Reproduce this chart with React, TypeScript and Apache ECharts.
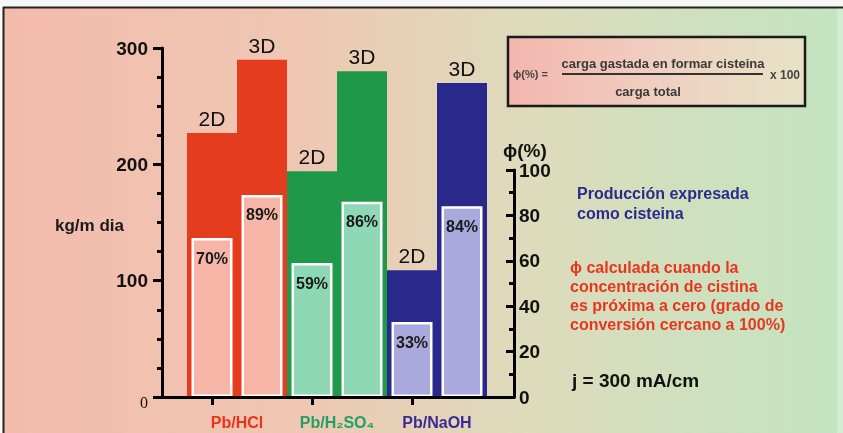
import { useEffect, useRef } from "react";
import * as echarts from "echarts";

// Cell configurations and electrode geometries
const groups = ["Pb/HCl", "Pb/H₂SO₄", "Pb/NaOH"];
const electrodes = ["2D", "3D"];
// Production expressed as cysteine (kg/m día), order: HCl 2D, HCl 3D, H2SO4 2D, H2SO4 3D, NaOH 2D, NaOH 3D
const production = [227, 290, 194, 280, 109, 270];
// Current efficiency ϕ (%) in the same order
const efficiency = [70, 89, 59, 86, 33, 84];
const productionTicks = [0, 100, 200, 300];
const efficiencyTicks = [0, 20, 40, 60, 80, 100];

const darkColors = ["#e63c1e", "#1f984a", "#29298c"];
const lightColors = ["#f6b5a6", "#8fd8b6", "#a9a9dd"];
const groupLabelColors = ["#e8341c", "#22a065", "#3a2c92"];

const FONT = "'Liberation Sans', Arial, Helvetica, sans-serif";

const barKeys = groups.flatMap((g) => electrodes.map((e) => `${g} ${e}`));

function buildOption() {
  const prodMax = productionTicks[productionTicks.length - 1];
  const prodStep = productionTicks[1] - productionTicks[0];
  const effMax = efficiencyTicks[efficiencyTicks.length - 1];
  const effStep = efficiencyTicks[1] - efficiencyTicks[0];

  const axisLineStyle = { color: "#000", width: 3 };

  const groupRich: Record<string, object> = {};
  groups.forEach((_, i) => {
    groupRich["g" + i] = {
      color: groupLabelColors[i],
      fontSize: 16,
      fontWeight: "bold",
      fontFamily: FONT,
    };
  });

  return {
    animation: false,
    textStyle: { fontFamily: FONT },
    grid: [
      { left: 162, right: 329, top: 48, bottom: 36 }, // frame with production axis
      { left: 187, right: 356, top: 48, bottom: 36 }, // production bars
      { left: 187, right: 356, top: 170, bottom: 36 }, // efficiency bars
      { left: 187, right: 356, top: 48, bottom: 36 }, // group labels
    ],
    xAxis: [
      {
        gridIndex: 0,
        type: "value",
        min: 0,
        max: 1,
        z: 5,
        axisLine: { show: true, lineStyle: axisLineStyle },
        axisTick: { show: false },
        axisLabel: { show: false },
        splitLine: { show: false },
      },
      {
        gridIndex: 1,
        type: "category",
        data: barKeys,
        boundaryGap: true,
        axisLine: { show: false },
        axisTick: {
          show: true,
          alignWithLabel: true,
          length: 8,
          lineStyle: { color: "#000", width: 3 },
        },
        axisLabel: { show: false },
      },
      {
        gridIndex: 2,
        type: "category",
        data: barKeys,
        boundaryGap: true,
        show: false,
      },
      {
        gridIndex: 3,
        type: "category",
        data: groups,
        boundaryGap: true,
        axisLine: { show: false },
        axisTick: { show: false },
        axisLabel: {
          interval: 0,
          margin: 17,
          formatter: (v: string, i: number) => `{g${i}|${v}}`,
          rich: groupRich,
        },
      },
    ],
    yAxis: [
      {
        gridIndex: 0,
        type: "value",
        position: "left",
        min: 0,
        max: prodMax,
        interval: prodStep,
        axisLine: { show: true, lineStyle: axisLineStyle },
        axisTick: { show: true, length: 9, lineStyle: { color: "#000", width: 3 } },
        minorTick: { show: true, splitNumber: 4, length: 5, lineStyle: { color: "#000", width: 3 } },
        splitLine: { show: false },
        axisLabel: {
          margin: 14,
          formatter: (v: number) => (v === 0 ? `{z|${v}}` : `{b|${v}}`),
          rich: {
            b: { fontSize: 19, fontWeight: "bold", color: "#111", fontFamily: FONT },
            z: { fontSize: 16, color: "#111", fontFamily: "'Liberation Serif', serif", padding: [10, 0, 0, 0] },
          },
        },
      },
      { gridIndex: 1, type: "value", min: 0, max: prodMax, show: false },
      {
        gridIndex: 2,
        type: "value",
        position: "right",
        offset: 27,
        min: 0,
        max: effMax,
        interval: effStep,
        axisLine: { show: true, lineStyle: axisLineStyle },
        axisTick: { show: true, inside: true, length: 8, lineStyle: { color: "#000", width: 3 } },
        minorTick: { show: true, splitNumber: 2, length: 5, lineStyle: { color: "#000", width: 3 } },
        splitLine: { show: false },
        axisLabel: { margin: 5, fontSize: 19, fontWeight: "bold", color: "#111" },
      },
      { gridIndex: 3, type: "value", show: false },
    ],
    series: [
      {
        name: "Producción",
        type: "bar",
        xAxisIndex: 1,
        yAxisIndex: 1,
        barCategoryGap: "0%",
        z: 2,
        data: production.map((v, i) => ({
          value: v,
          itemStyle: { color: darkColors[Math.floor(i / electrodes.length)] },
        })),
        label: {
          show: true,
          position: "top",
          distance: 4,
          fontSize: 21,
          color: "#111",
          formatter: (p: { dataIndex: number }) => electrodes[p.dataIndex % electrodes.length],
        },
      },
      {
        name: "ϕ",
        type: "bar",
        xAxisIndex: 2,
        yAxisIndex: 2,
        barWidth: 41,
        z: 3,
        data: efficiency.map((v, i) => ({
          value: v,
          itemStyle: {
            color: lightColors[Math.floor(i / electrodes.length)],
            borderColor: "#ffffff",
            borderWidth: 2.5,
          },
        })),
        label: {
          show: true,
          position: "insideTop",
          distance: 12,
          fontSize: 16,
          fontWeight: "bold",
          color: "#1a1a1a",
          formatter: "{c}%",
        },
      },
    ],
    graphic: [
      // slide background
      {
        type: "rect",
        z: -100,
        silent: true,
        shape: { x: 0, y: 0, width: 843, height: 433 },
        style: { fill: "#f7f7f5" },
      },
      {
        type: "rect",
        z: -99,
        silent: true,
        shape: { x: 4, y: 8, width: 833, height: 425 },
        style: {
          fill: new echarts.graphic.LinearGradient(0, 0, 1, 0, [
            { offset: 0, color: "#f4bbad" },
            { offset: 0.35, color: "#efc7b3" },
            { offset: 0.62, color: "#dedbbc" },
            { offset: 1, color: "#c3e4c0" },
          ]),
        },
      },
      {
        type: "rect",
        z: -99,
        silent: true,
        shape: { x: 837, y: 8, width: 6, height: 425 },
        style: { fill: "#d3ebd0" },
      },
      {
        type: "line",
        z: -98,
        silent: true,
        shape: { x1: 3, y1: 7.5, x2: 843, y2: 7.5 },
        style: { stroke: "#222", lineWidth: 2 },
      },
      {
        type: "line",
        z: -98,
        silent: true,
        shape: { x1: 3.5, y1: 7, x2: 3.5, y2: 433 },
        style: { stroke: "#222", lineWidth: 2 },
      },
      // left axis name
      {
        type: "text",
        z: 10,
        style: {
          text: "kg/m dia",
          x: 55,
          y: 225,
          textVerticalAlign: "middle",
          fontSize: 17,
          fontWeight: "bold",
          fontFamily: FONT,
          fill: "#1a1a1a",
        },
      },
      // right axis name
      {
        type: "text",
        z: 10,
        style: {
          text: "ϕ(%)",
          x: 503,
          y: 150,
          textVerticalAlign: "middle",
          fontSize: 19,
          fontWeight: "bold",
          fontFamily: FONT,
          fill: "#111",
        },
      },
      // efficiency definition box
      {
        type: "group",
        z: 10,
        children: [
          {
            type: "rect",
            shape: { x: 508, y: 37, width: 297, height: 69 },
            style: {
              fill: new echarts.graphic.LinearGradient(0, 0, 1, 0, [
                { offset: 0, color: "#f4b6ae" },
                { offset: 0.5, color: "#f0cfc0" },
                { offset: 1, color: "#e6e3c6" },
              ]),
              stroke: "#1a1a1a",
              lineWidth: 2.5,
            },
          },
          {
            type: "text",
            style: {
              text: "ϕ(%) =",
              x: 513,
              y: 74,
              textVerticalAlign: "middle",
              fontSize: 11,
              fontWeight: "bold",
              fontFamily: FONT,
              fill: "#444",
            },
          },
          {
            type: "line",
            shape: { x1: 562, y1: 74, x2: 763, y2: 74 },
            style: { stroke: "#333", lineWidth: 2 },
          },
          {
            type: "text",
            style: {
              text: "carga gastada en formar cisteina",
              x: 663,
              y: 63,
              textAlign: "center",
              textVerticalAlign: "middle",
              fontSize: 13,
              fontWeight: "bold",
              fontFamily: FONT,
              fill: "#3a3a3a",
            },
          },
          {
            type: "text",
            style: {
              text: "carga total",
              x: 648,
              y: 91,
              textAlign: "center",
              textVerticalAlign: "middle",
              fontSize: 13,
              fontWeight: "bold",
              fontFamily: FONT,
              fill: "#3a3a3a",
            },
          },
          {
            type: "text",
            style: {
              text: "x 100",
              x: 770,
              y: 75,
              textVerticalAlign: "middle",
              fontSize: 12,
              fontWeight: "bold",
              fontFamily: FONT,
              fill: "#444",
            },
          },
        ],
      },
      // notes
      {
        type: "text",
        z: 10,
        style: {
          text: "Producción expresada\ncomo cisteina",
          x: 577,
          y: 183,
          textVerticalAlign: "top",
          lineHeight: 20,
          fontSize: 16,
          fontWeight: "bold",
          fontFamily: FONT,
          fill: "#2b2b8c",
        },
      },
      {
        type: "text",
        z: 10,
        style: {
          text:
            "ϕ calculada cuando la\nconcentración de cistina\nes próxima a cero (grado de\nconversión cercano a 100%)",
          x: 570,
          y: 258,
          textVerticalAlign: "top",
          lineHeight: 19,
          fontSize: 16,
          fontWeight: "bold",
          fontFamily: FONT,
          fill: "#e8361e",
        },
      },
      {
        type: "text",
        z: 10,
        style: {
          text: "j = 300 mA/cm",
          x: 572,
          y: 380,
          textVerticalAlign: "middle",
          fontSize: 19,
          fontWeight: "bold",
          fontFamily: FONT,
          fill: "#111",
        },
      },
    ],
  };
}

export default function App() {
  const ref = useRef<HTMLDivElement>(null);
  useEffect(() => {
    const el = ref.current;
    if (!el) return;
    const chart = echarts.init(el, undefined, { renderer: "svg" });
    chart.setOption(buildOption() as echarts.EChartsCoreOption);
    return () => chart.dispose();
  }, []);
  return (
    <div
      ref={ref}
      style={{ position: "fixed", left: 0, top: 0, width: 843, height: 433 }}
    />
  );
}
